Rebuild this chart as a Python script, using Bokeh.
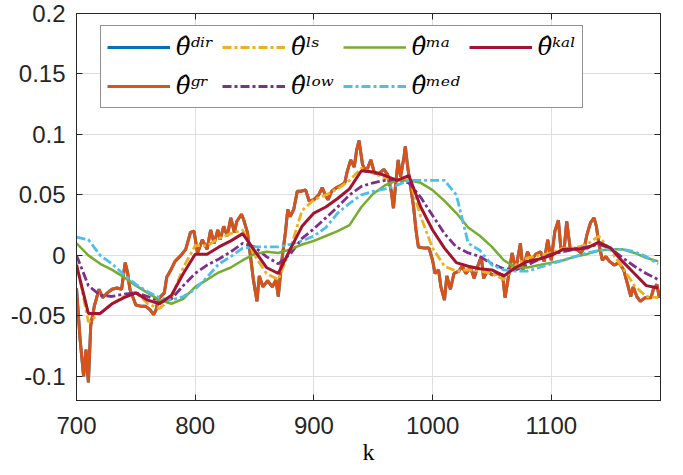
from bokeh.plotting import figure
from bokeh.models import (Range1d, FixedTicker, CustomJSTickFormatter, LinearAxis,
                          Legend, LegendItem)
from bokeh.embed import file_html
from bokeh.resources import INLINE

# ---------------- data ----------------
k_gr = [700, 703, 706, 708, 710, 712, 715, 719, 722, 726, 730, 734, 738, 741, 743, 745,
        750, 754, 758, 762, 765, 767, 769, 774, 776, 779, 783, 788, 792, 796, 799, 802,
        806, 810, 813, 816, 819, 821, 824, 827, 830, 833, 835, 839, 841, 844, 847, 849,
        852, 854, 857, 861, 865, 868, 870, 873, 876, 878, 880, 883, 886, 889, 893, 896,
        900, 904, 907, 910, 912, 915, 919, 923, 926, 928, 931, 934, 936, 938, 941, 944,
        948, 951, 955, 959, 962, 965, 967, 969, 971, 973, 976, 977, 979, 981, 984, 986,
        988, 993, 997, 1000, 1002, 1005, 1007, 1010, 1012, 1015, 1018, 1022, 1025, 1028,
        1032, 1035, 1038, 1041, 1043, 1046, 1050, 1054, 1059, 1061, 1064, 1067, 1070,
        1074, 1076, 1080, 1083, 1087, 1091, 1094, 1097, 1100, 1103, 1106, 1108, 1111,
        1113, 1116, 1120, 1125, 1128, 1130, 1133, 1136, 1138, 1140, 1143, 1146, 1149,
        1153, 1157, 1161, 1164, 1167, 1169, 1172, 1175, 1179, 1184, 1186, 1189, 1191]
theta_gr = [-0.027, -0.069, -0.100, -0.078, -0.105, -0.058, -0.042, -0.028, -0.035, -0.031,
            -0.028, -0.027, -0.028, -0.006, -0.014, -0.028, -0.041, -0.042, -0.042, -0.045,
            -0.049, -0.045, -0.036, -0.031, -0.018, -0.013, -0.005, 0.000, 0.005, 0.019,
            0.020, 0.002, 0.013, 0.005, 0.021, 0.010, 0.021, 0.013, 0.024, 0.016, 0.031,
            0.019, 0.028, 0.034, 0.029, 0.019, -0.004, -0.020, -0.038, -0.017, -0.026,
            -0.021, -0.026, -0.020, -0.034, -0.004, 0.019, 0.038, 0.032, 0.038, 0.053,
            0.053, 0.054, 0.045, 0.046, 0.050, 0.056, 0.049, 0.046, 0.053, 0.056, 0.058,
            0.060, 0.069, 0.079, 0.073, 0.087, 0.095, 0.075, 0.069, 0.079, 0.068, 0.068,
            0.071, 0.067, 0.054, 0.039, 0.060, 0.079, 0.065, 0.082, 0.090, 0.073, 0.060,
            0.040, 0.021, 0.007, 0.006, 0.006, -0.004, -0.015, -0.012, -0.026, -0.037,
            -0.017, -0.028, -0.015, -0.013, -0.009, -0.015, -0.010, -0.019, -0.009, -0.001,
            -0.019, -0.013, -0.016, -0.015, -0.016, -0.035, -0.017, 0.002, -0.012, 0.010,
            -0.012, 0.003, -0.004, 0.001, 0.003, -0.005, 0.013, -0.004, 0.020, 0.029,
            0.006, 0.007, 0.028, 0.005, 0.006, 0.002, 0.007, 0.017, 0.027, 0.031, 0.024,
            0.010, -0.004, -0.001, -0.005, -0.008, -0.006, -0.012, -0.023, -0.034, -0.026,
            -0.034, -0.038, -0.035, -0.035, -0.028, -0.024, -0.035]
# the direct estimate lies completely underneath the gradient estimate in the picture
theta_dir = theta_gr

k_s = [700, 710, 720, 730, 740, 750, 760, 770, 780, 790,
       800, 810, 820, 830, 840, 850, 860, 870, 880, 890,
       900, 910, 920, 930, 940, 950, 960, 970, 980, 990,
       1000, 1010, 1020, 1030, 1040, 1050, 1060, 1070, 1080, 1090,
       1100, 1110, 1120, 1130, 1140, 1150, 1160, 1170, 1180, 1190]
theta_ls = [-0.006, -0.055, -0.048, -0.040, -0.034, -0.030, -0.040, -0.044, -0.035, -0.010,
            0.008, 0.008, 0.014, 0.018, 0.021, 0.000, -0.015, -0.020, 0.005, 0.037,
            0.046, 0.050, 0.055, 0.062, 0.072, 0.068, 0.064, 0.062, 0.065, 0.032,
            0.006, -0.009, -0.013, -0.012, -0.013, -0.015, -0.020, -0.008, -0.002, 0.000,
            0.002, 0.006, 0.006, 0.009, 0.016, 0.004, -0.010, -0.025, -0.034, -0.035]
theta_low = [0.000, -0.025, -0.033, -0.034, -0.032, -0.031, -0.034, -0.038, -0.036, -0.025,
             -0.015, -0.008, -0.003, 0.003, 0.010, 0.007, -0.001, -0.007, 0.001, 0.014,
             0.022, 0.031, 0.040, 0.050, 0.057, 0.060, 0.062, 0.062, 0.060, 0.048,
             0.033, 0.018, 0.007, 0.002, -0.001, -0.007, -0.011, -0.012, -0.008, -0.003,
             0.001, 0.003, 0.005, 0.007, 0.009, 0.006, -0.002, -0.009, -0.015, -0.020]
theta_ma = [0.010, 0.000, -0.007, -0.012, -0.018, -0.025, -0.031, -0.037, -0.040, -0.036,
            -0.026, -0.020, -0.014, -0.010, -0.004, 0.001, 0.003, 0.002, 0.005, 0.009,
            0.012, 0.016, 0.020, 0.025, 0.040, 0.051, 0.058, 0.062, 0.062, 0.060,
            0.054, 0.045, 0.035, 0.023, 0.016, 0.007, -0.004, -0.010, -0.010, -0.008,
            -0.006, -0.004, -0.001, 0.001, 0.004, 0.005, 0.005, 0.002, -0.002, -0.005]
theta_med = [0.015, 0.013, 0.000, -0.007, -0.016, -0.024, -0.030, -0.035, -0.037, -0.034,
             -0.028, -0.018, -0.007, -0.001, 0.006, 0.007, 0.007, 0.007, 0.009, 0.012,
             0.016, 0.023, 0.035, 0.043, 0.050, 0.053, 0.055, 0.058, 0.062, 0.062,
             0.062, 0.062, 0.050, 0.010, 0.004, -0.008, -0.012, -0.013, -0.013, -0.010,
             -0.007, -0.004, -0.001, 0.002, 0.004, 0.005, 0.005, 0.003, -0.001, -0.007]
theta_kal = [-0.008, -0.048, -0.048, -0.040, -0.035, -0.031, -0.037, -0.040, -0.033, -0.015,
             0.001, 0.001, 0.007, 0.012, 0.018, 0.004, -0.010, -0.015, 0.005, 0.024,
             0.035, 0.040, 0.047, 0.055, 0.070, 0.069, 0.066, 0.062, 0.066, 0.040,
             0.021, 0.006, -0.006, -0.009, -0.011, -0.012, -0.017, -0.010, -0.005, -0.003,
             0.000, 0.005, 0.005, 0.006, 0.011, 0.006, -0.005, -0.015, -0.025, -0.027]

x_ticks = [700, 800, 900, 1000, 1100]
y_ticks = [-0.1, -0.05, 0, 0.05, 0.1, 0.15, 0.2]
x_label = "k"

labels = {
    "dir": "\u03b8\u0302\u1d48\u2071\u02b3",
    "gr": "\u03b8\u0302\u1d4d\u02b3",
    "ls": "\u03b8\u0302\u02e1\u02e2",
    "low": "\u03b8\u0302\u02e1\u1d52\u02b7",
    "ma": "\u03b8\u0302\u1d50\u1d43",
    "med": "\u03b8\u0302\u1d50\u1d49\u1d48",
    "kal": "\u03b8\u0302\u1d4f\u1d43\u02e1",
}

# ---------------- figure ----------------
AX = "#262626"
p = figure(width=675, height=467,
           x_range=Range1d(700, 1192), y_range=Range1d(-0.12, 0.2),
           output_backend="svg", toolbar_location=None,
           min_border_left=76, min_border_top=13, min_border_right=15, min_border_bottom=65)
p.background_fill_color = "white"
p.border_fill_color = "white"
p.outline_line_color = AX
p.outline_line_width = 1

fmt = CustomJSTickFormatter(code="return tick.toString();")
for ax in (p.xaxis[0], p.yaxis[0]):
    ax.formatter = fmt
    ax.major_tick_in = 6
    ax.major_tick_out = 0
    ax.minor_tick_line_color = None
    ax.axis_line_color = AX
    ax.major_tick_line_color = AX
    ax.major_label_text_color = AX
    ax.major_label_text_font = "Liberation Sans"
    ax.major_label_text_font_size = "24px"
p.xaxis[0].ticker = FixedTicker(ticks=x_ticks)
p.yaxis[0].ticker = FixedTicker(ticks=y_ticks)
p.xaxis[0].major_label_standoff = 16
p.yaxis[0].major_label_standoff = 11
p.xaxis[0].axis_label = x_label
p.xaxis[0].axis_label_text_font = "Liberation Serif"
p.xaxis[0].axis_label_text_font_style = "normal"
p.xaxis[0].axis_label_text_font_size = "24px"
p.xaxis[0].axis_label_text_color = "#000000"
p.xaxis[0].axis_label_standoff = 2

for loc, tk in (("right", y_ticks), ("above", x_ticks)):
    a = LinearAxis(ticker=FixedTicker(ticks=tk), formatter=fmt)
    a.major_tick_in = 6
    a.major_tick_out = 0
    a.minor_tick_line_color = None
    a.axis_line_color = AX
    a.major_tick_line_color = AX
    a.major_label_text_color = None
    a.major_label_text_font_size = "0px"
    a.major_label_standoff = 0
    p.add_layout(a, loc)

p.xgrid.ticker = FixedTicker(ticks=x_ticks)
p.ygrid.ticker = FixedTicker(ticks=y_ticks)
p.grid.grid_line_color = "#dedede"
p.grid.grid_line_width = 1

DD = "9 3 3 3"
r_dir = p.line(k_gr, theta_dir, line_color="#0072BD", line_width=3)
r_gr = p.line(k_gr, theta_gr, line_color="#D95319", line_width=3)
r_ls = p.line(k_s, theta_ls, line_color="#EDB120", line_width=2.8, line_dash=DD)
r_low = p.line(k_s, theta_low, line_color="#7E2F8E", line_width=2.8, line_dash=DD)
r_ma = p.line(k_s, theta_ma, line_color="#77AC30", line_width=2.5)
r_med = p.line(k_s, theta_med, line_color="#4DBEEE", line_width=2.8, line_dash=DD)
r_kal = p.line(k_s, theta_kal, line_color="#A2142F", line_width=3)

items = [LegendItem(label=labels[n], renderers=[r]) for n, r in
         (("dir", r_dir), ("gr", r_gr), ("ls", r_ls), ("low", r_low),
          ("ma", r_ma), ("med", r_med), ("kal", r_kal))]
leg = Legend(items=items, orientation="vertical", nrows=2, location=(24, 292),
             glyph_width=63, glyph_height=30, label_height=30, label_standoff=6,
             spacing=9, padding=6, margin=0,
             label_text_font="DejaVu Serif", label_text_font_style="italic",
             label_text_font_size="24px", label_text_color="#000000",
             border_line_color=AX, border_line_width=1,
             background_fill_color="white", background_fill_alpha=1.0)
p.add_layout(leg, "center")

open("out.html", "w").write(file_html(p, INLINE))
